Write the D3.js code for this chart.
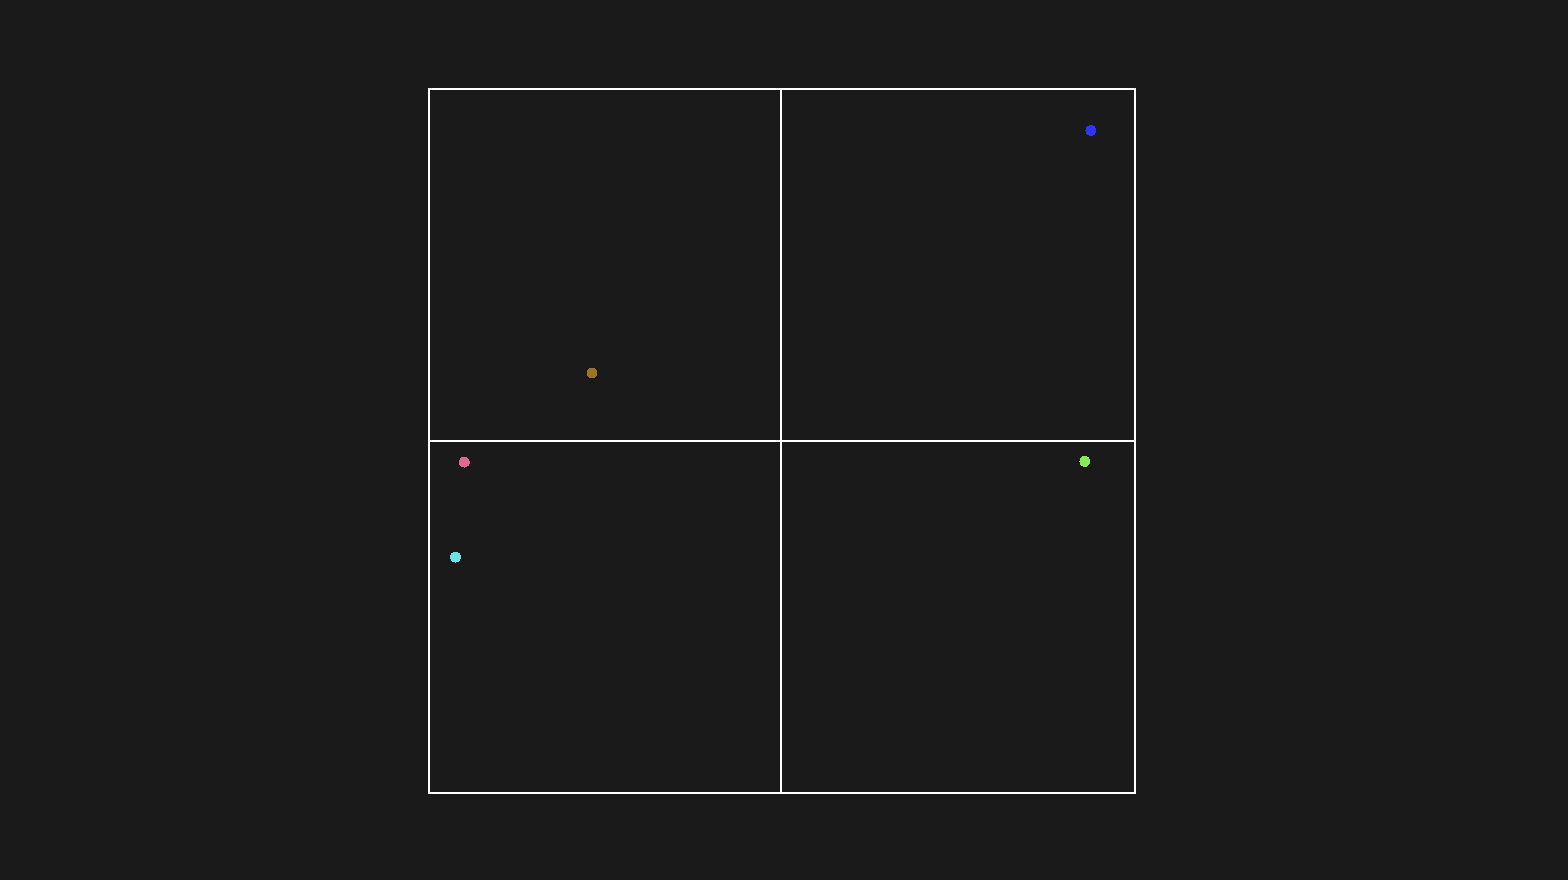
<!DOCTYPE html>
<html><head><meta charset="utf-8">
<script src="https://cdn.jsdelivr.net/npm/d3@7"></script>
<style>html,body{margin:0;padding:0;background:#1a1a1a;}</style>
</head><body>
<svg id="c" width="1568" height="880"></svg>
<script>
const names = ["A","B","C","D","E"];
const xValues = [0.875, -0.538, -0.90, -0.925, 0.858];
const yValues = [0.882, 0.193, -0.06, -0.33, -0.058];
const colors = ["#2c36f0", "#9a7528", "#e0688e", "#6fe2e6", "#88e855"];

const svg = d3.select("#c");
const x = d3.scaleLinear().domain([-1,1]).range([429,1135]);
const y = d3.scaleLinear().domain([-1,1]).range([793,89]);

svg.append("rect").attr("x",x(-1)).attr("y",y(1)).attr("width",x(1)-x(-1)).attr("height",y(-1)-y(1))
  .attr("fill","#1a1a1a").attr("stroke","#fff").attr("stroke-width",2);
svg.append("line").attr("x1",x(0)-1).attr("x2",x(0)-1).attr("y1",y(1)).attr("y2",y(-1)).attr("stroke","#fff").attr("stroke-width",2);
svg.append("line").attr("x1",x(-1)).attr("x2",x(1)).attr("y1",y(0)).attr("y2",y(0)).attr("stroke","#fff").attr("stroke-width",2);

svg.selectAll("circle.p").data(names).join("circle").attr("class","p")
  .attr("cx",(d,i)=>x(xValues[i])).attr("cy",(d,i)=>y(yValues[i])).attr("r",5.5)
  .attr("shape-rendering","crispEdges")
  .attr("fill",(d,i)=>colors[i]);
</script>
</body></html>
